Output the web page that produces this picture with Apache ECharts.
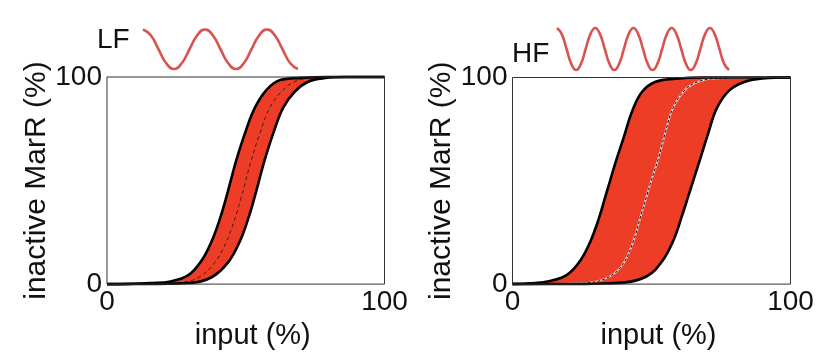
<!DOCTYPE html>
<html>
<head>
<meta charset="utf-8">
<script src="https://cdn.jsdelivr.net/npm/echarts@6/dist/echarts.min.js"></script>
<style>
html,body{margin:0;padding:0;background:#fff;}
#c{width:825px;height:355px;}
</style>
</head>
<body>
<div id="c"></div>
<script>
// ---- data: [input %, inactive MarR %] ----
var lfLeft = [[0,0],[8,0.1],[15.5,0.5],[22.9,1.3],[29.3,4.3],[34.1,11.4],[37.7,20.7],[40.7,31.6],[43.1,42.5],[44.6,50],[46.7,60.3],[49.7,72.8],[53.3,85.2],[57.5,93.8],[62.4,98.5],[69.6,99.6],[80,100],[100,100]];
var lfCenter = [[0,0],[15,0.1],[22,0.3],[27.5,0.8],[33.5,3.6],[38.9,10.6],[43.1,20.7],[46.1,31.6],[48.5,42.5],[50,50],[52.1,60.3],[55.1,72.8],[58.7,85.2],[63.5,93.8],[68.9,98.5],[75,99.6],[85,100],[100,100]];
var lfRight = [[0,0],[15,0.05],[22,0.2],[29.9,0.5],[37.7,3.3],[43.7,10.6],[47.9,20.7],[50.9,31.6],[53.3,42.5],[54.8,50],[56.9,60.3],[59.9,72.8],[63.5,85.2],[67.7,93],[72.5,97.7],[78.6,99.5],[86,100],[100,100]];

var hfLeft = [[0,0.1],[6.3,0.4],[13.5,1.5],[19.7,4.6],[24.5,11.6],[28.1,20.9],[31.1,31.9],[33.5,42.8],[35.1,50],[37.1,59],[40.1,71.4],[43.1,83.9],[46.7,93.2],[51.5,97.9],[58.7,99.4],[68,100],[100,100]];
var hfCenter = [[0,0],[15,0.1],[22,0.3],[27.9,0.7],[35.1,3.8],[39.9,10],[43.5,20.9],[45.9,31.9],[48.3,42.8],[49.9,50],[52.4,60.5],[54.9,73],[57.8,85.4],[62.7,94.8],[68.6,98.7],[76,99.7],[85,100],[100,100]];
var hfRight = [[0,0],[20,0.05],[30,0.2],[39.9,0.7],[48.3,3.8],[53.7,10.8],[57.8,20.9],[60.7,31.9],[63.3,42.8],[65,50],[67.5,60.5],[70.4,73],[73.6,85.4],[78.2,94],[84.2,98.2],[92.6,99.8],[100,100]];

// input waveforms (phase in periods, relative level)
var lfWave = [[0,1],[0.125,0.71],[0.25,0],[0.375,-0.71],[0.5,-1],[0.625,-0.71],[0.75,0],[0.875,0.71],[1,1],[1.125,0.71],[1.25,0],[1.375,-0.71],[1.5,-1],[1.625,-0.71],[1.75,0],[1.875,0.71],[2,1],[2.125,0.71],[2.25,0],[2.375,-0.71],[2.5,-1]];
var hfWave = [[0,1],[0.125,0.71],[0.25,0],[0.375,-0.71],[0.5,-1],[0.625,-0.71],[0.75,0],[0.875,0.71],[1,1],[1.125,0.71],[1.25,0],[1.375,-0.71],[1.5,-1],[1.625,-0.71],[1.75,0],[1.875,0.71],[2,1],[2.125,0.71],[2.25,0],[2.375,-0.71],[2.5,-1],[2.625,-0.71],[2.75,0],[2.875,0.71],[3,1],[3.125,0.71],[3.25,0],[3.375,-0.71],[3.5,-1],[3.625,-0.71],[3.75,0],[3.875,0.71],[4,1],[4.125,0.71],[4.25,0],[4.375,-0.71],[4.5,-1]];

var panelTitles = ['LF','HF'];
var xName = 'input (%)';
var yName = 'inactive MarR (%)';
var axisMin = 0, axisMax = 100;

var FONT = 'Liberation Sans, Arial, sans-serif';
var RED = '#ee3d27';
var WAVE = '#d9534f';

function mainX(gi){
  return {
    gridIndex: gi, type:'value', min:axisMin, max:axisMax, interval:100,
    axisLine:{show:false}, axisTick:{show:false}, splitLine:{show:false},
    axisLabel:{fontSize:28, color:'#111', fontFamily:FONT, margin:4},
    name:xName, nameLocation:'middle', nameGap:22,
    nameTextStyle:{fontSize:29, color:'#111', fontFamily:FONT, padding:[0,0,0,14]}
  };
}
function mainY(gi){
  return {
    gridIndex: gi, type:'value', min:axisMin, max:axisMax, interval:100,
    axisLine:{show:false}, axisTick:{show:false}, splitLine:{show:false},
    axisLabel:{fontSize:28, color:'#111', fontFamily:FONT, margin:5},
    name:yName, nameLocation:'middle', nameGap:55, nameRotate:90,
    nameTextStyle:{fontSize:30, color:'#111', fontFamily:FONT}
  };
}
function hidden(gi, min, max){
  return {gridIndex:gi, type:'value', min:min, max:max, show:false};
}
function area(data, gi, color){
  return {type:'line', xAxisIndex:gi, yAxisIndex:gi, data:data, smooth:0.4, showSymbol:false, silent:true,
    lineStyle:{opacity:0}, areaStyle:{color:color, opacity:1}};
}
function curve(data, gi){
  return {type:'line', xAxisIndex:gi, yAxisIndex:gi, data:data, smooth:0.4, showSymbol:false, silent:true, clip:false,
    lineStyle:{color:'#000', width:2.6}};
}
function dashed(data, gi, color, width, type){
  return {type:'line', xAxisIndex:gi, yAxisIndex:gi, data:data, smooth:0.4, showSymbol:false, silent:true, clip:false,
    lineStyle:{color:color, width:width, type:type}};
}
function wave(data, gi){
  return {type:'line', xAxisIndex:gi, yAxisIndex:gi, data:data, smooth:0.5, showSymbol:false, silent:true, clip:false,
    lineStyle:{color:WAVE, width:2.6}};
}

var chart = echarts.init(document.getElementById('c'), null, {renderer:'canvas'});
chart.setOption({
  backgroundColor:'#fff',
  animation:false,
  title:[
    {text:panelTitles[0], left:97, top:26, padding:0, textStyle:{fontSize:28, fontWeight:'normal', color:'#111', fontFamily:FONT}},
    {text:panelTitles[1], left:512, top:40, padding:0, textStyle:{fontSize:28, fontWeight:'normal', color:'#111', fontFamily:FONT}}
  ],
  grid:[
    {left:107, top:77, width:277.5, height:214, show:true, z:10, backgroundColor:'transparent', borderColor:'#333', borderWidth:1},
    {left:512.5, top:77.5, width:278, height:214, show:true, z:10, backgroundColor:'transparent', borderColor:'#333', borderWidth:1},
    {left:143, top:29.5, width:155, height:39.5},
    {left:557, top:28, width:172, height:42}
  ],
  xAxis:[mainX(0), mainX(1), hidden(2,0,2.5), hidden(3,0,4.5)],
  yAxis:[mainY(0), mainY(1), hidden(2,-1,1), hidden(3,-1,1)],
  series:[
    area(lfLeft,0,RED), area(lfRight,0,'#fff'),
    dashed(lfCenter,0,'#4a1c14',1,[4,3]),
    curve(lfLeft,0), curve(lfRight,0),
    area(hfLeft,1,RED), area(hfRight,1,'#fff'),
    dashed(hfCenter,1,'#f2c9c4',2,'solid'),
    dashed(hfCenter,1,'#111',1,[3,2]),
    curve(hfLeft,1), curve(hfRight,1),
    wave(lfWave,2), wave(hfWave,3)
  ]
});
</script>
</body>
</html>
